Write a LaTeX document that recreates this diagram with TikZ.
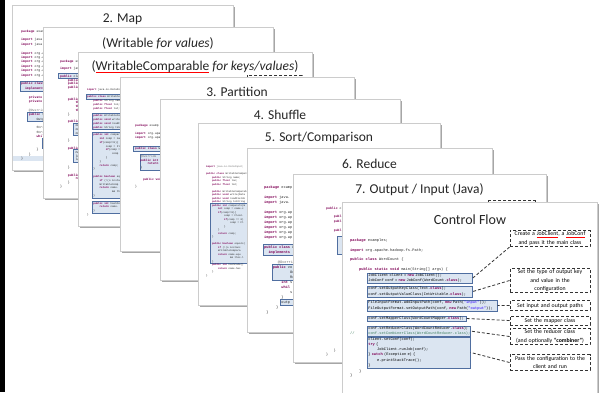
\documentclass[tikz,border=0pt]{standalone}
\usepackage{fontspec}
\setmainfont{Carlito}
\setmonofont{Liberation Mono}

\definecolor{kwpurple}{RGB}{127,0,85}
\definecolor{strblue}{RGB}{42,0,255}
\definecolor{cmtgreen}{RGB}{63,127,95}
\definecolor{boxblue}{RGB}{79,110,160}
\definecolor{hlfill}{RGB}{219,229,241}
\definecolor{anngray}{RGB}{110,110,110}

\newcommand{\kw}[1]{\textcolor{kwpurple}{\bfseries #1}}
\newcommand{\ann}[1]{\textcolor{anngray}{#1}}
\newcommand{\ind}{\hspace*{2.4em}}
\newcommand{\spellred}[1]{\setbox0\hbox{#1}\rlap{\textcolor{red}{\rule[-1.4pt]{\wd0}{0.35pt}}}\box0\relax}
\newcommand{\hlbox}[4]{\draw[hl] (#1,{\ctop+(#3-1.25)*\lh}) rectangle (#2,{\ctop+(#4-0.05)*\lh});}

\begin{document}
\begin{tikzpicture}[
            x=1pt, y=-1pt,
            slide/.style={fill=white, draw=gray!40, line width=0.4pt},
            slideedge/.style={draw=gray!70, line width=1.3pt},
            slidetitle/.style={font=\fontsize{13.5}{15}\selectfont, text=black!85, inner sep=0pt},
            code/.style 2 args={font=\ttfamily\fontsize{#1}{#2}\selectfont, align=left,
              anchor=north west, inner sep=0pt, text=black!85},
            hl/.style={fill=hlfill, draw=boxblue, line width=0.6pt},
            codebox/.style={hl, font=\ttfamily\fontsize{3.7}{5.1}\selectfont, align=left,
              anchor=north west, inner sep=1pt},
            callbox/.style={draw=black!80, densely dashed, line width=0.9pt, fill=white,
              font=\fontsize{5.8}{8.3}\selectfont, align=center, text width=77pt,
              inner xsep=1.5pt, inner ysep=1.5pt},
            link/.style={draw=black!80, densely dashed, line width=0.8pt},
          ]
          \useasboundingbox (0,0) rectangle (606,392);
          \clip (0,0) rectangle (606,392);
          \fill[black] (0,0) rectangle (4.5,392);

          % 2. Map
          \draw[slideedge] (234,7) -- (234,171) -- (14,171);
          \draw[slide] (12,5) rectangle (233,170);
          \node[slidetitle] (maptitle) at (122.5,19) {2. Map};
          \def\ctop{29.5}\def\lh{4.4}
          \hlbox{20}{60}{13}{14}
          \hlbox{27.5}{60}{20}{21}
          \hlbox{42.5}{60}{26}{27}
          \fill[hlfill] (13,{\ctop+28.75*\lh}) rectangle (60,{\ctop+29.95*\lh});
          \node[code={3.2}{4.4}] (mapcode) at (21,\ctop) {%
            \kw{package} exam\\ \mbox{}\\
            \kw{import} java.\\
            \kw{import} java.\\ \mbox{}\\
            \kw{import} org.a\\
            \kw{import} org.a\\
            \kw{import} org.a\\
            \kw{import} org.a\\
            \kw{import} org.a\\
            \kw{import} org.a\\ \mbox{}\\
            \kw{public class}\\
            \hspace*{1.2em}\kw{implements}\\ \mbox{}\\
            \ind\kw{private} fi\\
            \ind\kw{private} Te\\ \mbox{}\\
            \ind\ann{@Override}\\
            \ind\kw{public} voi\\
            \ind\ind Output\\ \mbox{}\\
            \ind\ind String\\
            \ind\ind String\\
            \ind\ind\kw{while}(\\
            \ind\ind\ind word\\
            \ind\ind\ind outp\\
            \ind\ind\}\\
            \ind\}\\
            \}};

          % (Writable for values)
          \draw[slideedge] (274,29) -- (274,199) -- (45,199);
          \draw[slide] (43,27) rectangle (273,198);
          \node[slidetitle] (wrtitle) at (158,43) {(Writable \textit{for values})};
          \def\ctop{59.5}\def\lh{3.8}
          \hlbox{58}{100}{5}{5}
          \hlbox{73}{100}{18}{20}
          \hlbox{73}{100}{25}{27}
          \node[code={3.2}{3.8}] (wrcode) at (60,\ctop) {%
            \kw{package} exa\\ \mbox{}\\
            \kw{import} java\\ \mbox{}\\
            \kw{public} clas\\
            \ind\kw{public} S\\
            \ind\kw{public} f\\
            \ind\kw{public} f\\ \mbox{}\\ \mbox{}\\
            \ind\kw{public} P\\
            \ind\ind\kw{this}\\
            \ind\ind\kw{this}\\
            \ind\ind\kw{this}\\
            \ind\}\\ \mbox{}\\
            \ind\kw{public} v\\
            \ind\ind out.\\
            \ind\ind out.\\
            \ind\ind out.\\ \mbox{}\\
            \ind\}\\ \mbox{}\\
            \ind\kw{public} v\\
            \ind\ind name\\
            \ind\ind lon\\
            \ind\ind lat\\ \mbox{}\\
            \ind\}\\ \mbox{}\\
            \ind\kw{public} S\\
            \ind\ind\kw{retu}\\
            \ind\}\\
            \}};

          % (WritableComparable for keys/values)
          \draw[slideedge] (313,54) -- (313,227) -- (80,227);
          \draw[slide] (78,52) rectangle (312,226);
          \node[slidetitle] (wctitle) at (195,67) {(\spellred{WritableComparable} \textit{for keys/values})};
          \draw[black!80, densely dashed, line width=0.9pt] (247,75) rectangle (302,100);
          \def\ctop{88.1}\def\lh{3.8}
          \hlbox{86}{130}{3}{3}
          \hlbox{92}{130}{8}{11}
          \hlbox{92}{130}{13}{29}
          \hlbox{92}{130}{31}{33}
          \node[code={2.6}{3.8}] (wccode) at (87,\ctop) {%
            \kw{import} java.io.DataInput;\\ \mbox{}\\
            \kw{public class} WritableComp\\
            \ind\kw{public} String name;\\
            \ind\kw{public float} lon;\\
            \ind\kw{public float} lat;\\ \mbox{}\\
            \ind\kw{public} WritableCompar\\
            \ind\kw{public void} write(Da\\
            \ind\kw{public void} readFie\\
            \ind\kw{public} String toStr\\ \mbox{}\\
            \ind\kw{public int} compareTo\\
            \ind\ind\kw{int} comp = nam\\
            \ind\ind\kw{if}(comp==0)\{\\
            \ind\ind\ind comp = Flo\\
            \ind\ind\ind\kw{if}(comp ==\\
            \ind\ind\ind\ind comp\\
            \ind\ind\ind\}\\
            \ind\ind\}\\
            \ind\ind\kw{return} comp;\\
            \ind\}\\ \mbox{}\\
            \ind\kw{public boolean} equa\\
            \ind\ind\kw{if} (!(o insta\\
            \ind\ind WritableComp\\
            \ind\ind\kw{return} name.\\
            \ind\ind\ind\ind \&\& th\\
            \ind\}\\ \mbox{}\\
            \ind\kw{public int} hashCode\\
            \ind\ind\kw{return} name.\\
            \ind\}\\
            \}};

          % 3. Partition
          \draw[slideedge] (355,79) -- (355,252) -- (122,252);
          \draw[slide] (120,77) rectangle (354,251);
          \node[slidetitle] (parttitle) at (237,92) {3. Partition};
          \def\ctop{124.6}\def\lh{3.8}
          \hlbox{133}{175}{7}{7}
          \hlbox{140}{175}{9}{12}
          \node[code={3.0}{3.8}] (partcode) at (135,\ctop) {%
            \kw{package} examp\\ \mbox{}\\
            \kw{import} org.apa\\
            \kw{import} org.apa\\ \mbox{}\\ \mbox{}\\
            \kw{public class} W\\ \mbox{}\\
            \hspace*{1.7em}\ann{@Override}\\
            \hspace*{1.7em}\kw{public int} g\\
            \hspace*{1.7em}\ind\kw{return}\\
            \hspace*{1.7em}\}\\ \mbox{}\\ \mbox{}\\
            \hspace*{2.6em}\kw{public void}\\ \mbox{}\\
            \}};

          % 4. Shuffle
          \draw[slideedge] (401,101) -- (401,281) -- (162,281);
          \draw[slide] (160,99) rectangle (400,280);
          \node[slidetitle] (shuftitle) at (280,115) {4. Shuffle};

          % 5. Sort/Comparison
          \draw[slideedge] (441,125) -- (441,306) -- (200,306);
          \draw[slide] (198,123) rectangle (440,305);
          \node[slidetitle] (sorttitle) at (319,138) {5. Sort/Comparison};
          \def\ctop{165.8}\def\lh{3.5}
          \hlbox{210}{255}{12}{28}
          \node[code={2.5}{3.5}] (sortcode) at (206,\ctop) {%
            \ann{\kw{import} java.io.DataInput;}\\ \mbox{}\\
            \kw{public class} WritableCompara\\
            \ind\kw{public} String name;\\
            \ind\kw{public float} lon;\\
            \ind\kw{public float} lat;\\ \mbox{}\\
            \ind\kw{public} WritableComparab\\
            \ind\kw{public void} write(Data\\
            \ind\kw{public void} readFields\\
            \ind\kw{public} String toString\\
            \ind\kw{public int} compareTo(W\\
            \ind\ind\kw{int} comp = name.c\\
            \ind\ind\kw{if}(comp==0)\{\\
            \ind\ind\ind comp = Float.\\
            \ind\ind\ind\kw{if}(comp == 0)\\
            \ind\ind\ind\ind comp = Fl\\
            \ind\ind\ind\}\\
            \ind\ind\}\\
            \ind\ind\kw{return} comp;\\
            \ind\}\\ \mbox{}\\
            \ind\kw{public boolean} equals(\\
            \ind\ind\kw{if} (!(o instanc\\
            \ind\ind WritableCompara\\
            \ind\ind\kw{return} name.equ\\
            \ind\ind\ind\ind \&\& this.l\\
            \ind\}\\
            \ind\kw{public int} hashCode()\\
            \ind\ind\kw{return} name.has\\
            \ind\}\\
            \}};

          % 6. Reduce
          \draw[slideedge] (493,150) -- (493,333) -- (249,333);
          \draw[slide] (247,148) rectangle (492,332);
          \node[slidetitle] (redtitle) at (369.5,164) {6. Reduce};
          \def\ctop{185.3}\def\lh{5}
          \hlbox{263}{310}{13}{14}
          \hlbox{272}{310}{17}{19}
          \hlbox{280}{310}{24}{24}
          \node[code={3.6}{5}] (redcode) at (264,\ctop) {%
            \kw{package} examp\\ \mbox{}\\
            \kw{import} java.\\
            \kw{import} java.\\ \mbox{}\\
            \kw{import} org.ap\\
            \kw{import} org.ap\\
            \kw{import} org.ap\\
            \kw{import} org.ap\\
            \kw{import} org.ap\\
            \kw{import} org.ap\\ \mbox{}\\
            \kw{public class} W\\
            \hspace*{1.2em}\kw{implements}\\ \mbox{}\\
            \hspace*{3.8em}\ann{@Override}\\
            \ind\kw{public} vo\\
            \ind\ind\ind Ou\\
            \ind\ind\ind Re\\
            \ind\ind\kw{int} s\\
            \ind\ind\kw{whil}\\
            \ind\ind\ind s\\
            \ind\ind\}\\
            \ind\ind outp\\
            \hspace*{3.3em}\}\\
            \hspace*{0.6em}\}};

          % 7. Output / Input (Java)
          \draw[slideedge] (547,176) -- (547,363) -- (295,363);
          \draw[slide] (293,174) rectangle (546,362);
          \node[slidetitle] (outtitle) at (419.5,190) {7. Output / Input (Java)};
          \draw[black!80, densely dashed, line width=0.9pt] (488,200.5) rectangle (535,230);
          \def\ctop{206.5}\def\lh{4.4}
          \hlbox{337}{360}{8}{11}
          \node[code={3.2}{4.4}] (outcode) at (326,\ctop) {%
            \kw{public} clas\\ \mbox{}\\
            \ind\kw{publ}\\
            \ind\kw{publ}\\ \mbox{}\\
            \ind\kw{publ}};
          \node[code={3.2}{4.6}] (outclose) at (326,348.5) {\ind\}\\\}};

          % Control Flow
          \draw[slideedge] (598,204) -- (598,400);
          \draw[slide] (342,202) rectangle (597,400);
          \node[slidetitle, font=\fontsize{14}{16}\selectfont] (cftitle) at (470,220) {Control Flow};
          \node[code={3.7}{4.75}] (cfhead) at (350,238.9) {%
            \kw{package} examples;\\ \mbox{}\\
            \kw{import} org.apache.hadoop.fs.Path;\\ \mbox{}\\
            \kw{public class} WordCount \{\\ \mbox{}\\
            \ind\kw{public static void} main(String[] args) \{};
          \node[codebox, text width=103pt] (clientbox) at (367,272.6) {%
            JobClient client = \kw{new} JobClient();\\
            JobConf conf = \kw{new} JobConf(WordCount.\kw{class});};
          \node[codebox, text width=103pt] (typebox) at (367,286) {%
            conf.setOutputKeyClass(Text.\kw{class});\\
            conf.setOutputValueClass(IntWritable.\kw{class});};
          \node[codebox, text width=128pt] (pathbox) at (367,300) {%
            FileInputFormat.addInputPath(conf, \kw{new} Path(\textcolor{strblue}{"input"}));\\
            FileOutputFormat.setOutputPath(conf, \kw{new} Path(\textcolor{strblue}{"output"}));};
          \node[codebox, text width=97pt] (mapperbox) at (367,315.5) {%
            conf.setMapperClass(WordCountMapper.\kw{class});};
          \node[codebox, text width=101pt] (reducerbox) at (367,325.5) {%
            conf.setReducerClass(WordCountReducer.\kw{class});\\
            \textcolor{cmtgreen}{conf.setCombinerClass(WordCountReducer.class);}};
          \node[codebox, text width=101pt] (runbox) at (reducerbox.south west) {%
            client.setConf(conf);\\
            \kw{try} \{\\
            \ind JobClient.runJob(conf);\\
            \} \kw{catch} (Exception e) \{\\
            \ind e.printStackTrace();\\
            \}};
          \node[code={3.7}{4.75}, text=cmtgreen] (slashes) at (350,331.3) {//};
          \node[code={3.7}{4}] (cfclose) at (350,369.9) {\ind\}\\\}};

          \node[callbox] (c1) at (550,238.5) {Create a \spellred{JobClient}, a \spellred{JobConf}\\and pass it the main class};
          \node[callbox] (c2) at (550,280.5) {Set the type of output key\\and value in the\\configuration};
          \node[callbox, minimum height=9.5pt] (c3) at (550,305.5) {Set input and output paths};
          \node[callbox, minimum height=9pt] (c4) at (550,320.5) {Set the mapper class};
          \node[callbox] (c5) at (550,336.5) {Set the reducer class\\(and optionally \textbf{``combiner''})};
          \node[callbox] (c6) at (550,362.5) {Pass the configuration to the\\client and run};

          \draw[link] (c1.south west) -- (clientbox.east);
          \draw[link] (c2.west) -- (typebox.east);
          \draw[link] (c3.west) -- (pathbox.east);
          \draw[link] (c4.west) -- (mapperbox.east);
          \draw[link] (c5.west) -- (reducerbox.east);
          \draw[link] (c6.west) -- (runbox.east);
          \end{tikzpicture}
\end{document}
